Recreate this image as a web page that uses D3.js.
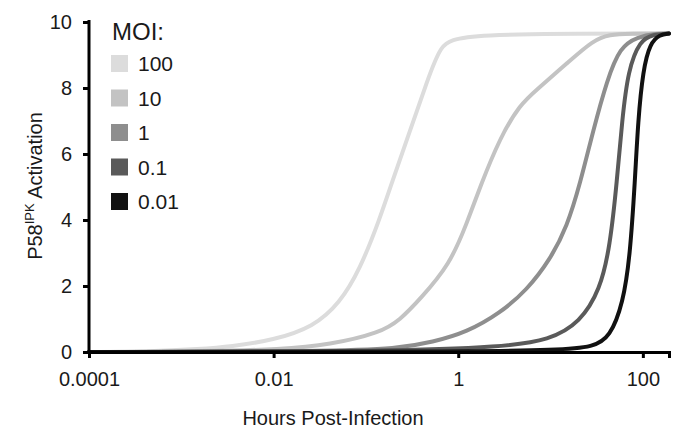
<!DOCTYPE html>
<html>
<head>
  <meta charset="utf-8">
  <script src="https://d3js.org/d3.v7.min.js"></script>
  <style>
    body { margin: 0; background: #fff; }
    text { font-family: "Liberation Sans", Arial, sans-serif; fill: #1a1a1a; }
    .line { fill: none; stroke-width: 4; stroke-linecap: round; stroke-linejoin: round; }
    .axis path, .axis line { stroke: #000; stroke-width: 3; }
    .axis text { font-size: 20px; }
  </style>
</head>
<body>
  <svg id="chart" width="689" height="441"></svg>
  <script>
    // series labels and colours (legend order)
    var mois = ['100', '10', '1', '0.1', '0.01'];
    var colors = ['#dcdcdc', '#c3c3c3', '#8e8e8e', '#5a5a5a', '#111111'];

    // [hours, activation]
    var moi100 = [[1e-4, 0], [4.6e-4, 0.01], [1.6e-3, 0.09], [3.4e-3, 0.16], [0.01, 0.36], [0.027, 0.76],
      [0.052, 1.48], [0.086, 2.5], [0.14, 4.0], [0.2, 5.3], [0.3, 6.7], [0.46, 8.2], [0.64, 9.3],
      [1.0, 9.65], [192, 9.65]];
    var moi10 = [[1e-4, 0], [2e-3, 0.02], [0.0117, 0.08], [0.041, 0.22], [0.142, 0.58], [0.234, 0.97],
      [0.385, 1.6], [0.81, 2.65], [1.24, 3.9], [1.72, 5.0], [2.84, 6.5], [4.67, 7.5], [7.1, 7.95],
      [15.1, 8.75], [28.9, 9.45], [44, 9.62], [70, 9.65], [192, 9.65]];
    var moi1 = [[1e-4, 0], [0.041, 0.02], [0.22, 0.1], [0.53, 0.3], [1.24, 0.6], [2.84, 1.18],
      [5.56, 1.88], [9.9, 2.8], [15.1, 3.8], [20.9, 5.1], [28.9, 6.7], [40.9, 8.24],
      [56.6, 9.24], [86.5, 9.55], [142, 9.65], [192, 9.65]];
    var moi01 = [[1e-4, 0], [0.234, 0.02], [2.84, 0.15], [9.9, 0.36], [20.9, 0.9],
      [34.4, 1.88], [44.1, 3.2], [52.5, 5.2], [59.5, 7.0], [69.2, 8.55], [93.4, 9.45], [129, 9.62],
      [192, 9.65]];
    var moi001 = [[1e-4, 0], [1, 0.01], [12.7, 0.06], [28.9, 0.15], [44.1, 0.45], [61, 1.48],
      [72.6, 2.9], [82.2, 5.2], [88.7, 7.0], [100.5, 8.55], [119.7, 9.36], [153, 9.62], [192, 9.65]];
    var series = [moi100, moi10, moi1, moi01, moi001];

    var xTicks = [1e-4, 1e-2, 1, 100];
    var xTickLabels = ['0.0001', '0.01', '1', '100'];
    var yTicks = [0, 2, 4, 6, 8, 10];

    var chart = d3.select('#chart');
    var margin = { top: 22, right: 20, bottom: 89, left: 89 };
    var width = 669 - margin.left;
    var height = 352 - margin.top;

    var x = d3.scaleLog().domain([1e-4, 192]).range([0, width]);
    var y = d3.scaleLinear().domain([0, 10]).range([height, 0]);

    var group = chart.append('g')
      .attr('transform', 'translate(' + margin.left + ', ' + margin.top + ')');

    var line = d3.line()
      .x((d) => x(d[0]))
      .y((d) => y(d[1]))
      .curve(d3.curveBasis);

    group.selectAll('path.line')
      .data(series)
      .enter()
      .append('path')
      .attr('class', 'line')
      .attr('stroke', (d, i) => colors[i])
      .attr('d', line);

    group.append('g')
      .attr('class', 'axis x-axis')
      .attr('transform', 'translate(0, ' + height + ')')
      .call(d3.axisBottom(x)
        .tickValues(xTicks)
        .tickFormat((d, i) => xTickLabels[i])
        .tickSizeOuter(0)
        .tickSize(6)
        .tickPadding(14));

    group.append('g')
      .attr('class', 'axis y-axis')
      .call(d3.axisLeft(y)
        .tickValues(yTicks)
        .tickSizeOuter(0)
        .tickSize(6)
        .tickPadding(11));

    group.select('.y-axis .domain').attr('d', 'M0,' + (height + 1.5) + 'V-2');

    // axis titles
    chart.append('text')
      .attr('x', 333)
      .attr('y', 425)
      .attr('text-anchor', 'middle')
      .style('font-size', '20px')
      .text('Hours Post-Infection');

    var yTitle = chart.append('text')
      .attr('transform', 'translate(42, 186) rotate(-90)')
      .attr('text-anchor', 'middle')
      .style('font-size', '20px');
    yTitle.append('tspan').text('P58');
    yTitle.append('tspan').attr('dy', -8).style('font-size', '13px').text('IPK');
    yTitle.append('tspan').attr('dy', 8).text(' Activation');

    // legend
    var legend = chart.append('g').attr('transform', 'translate(111, 0)');
    legend.append('text')
      .attr('x', 1)
      .attr('y', 40)
      .style('font-size', '24px')
      .text('MOI:');

    var items = legend.selectAll('g.item')
      .data(mois)
      .enter()
      .append('g')
      .attr('class', 'item')
      .attr('transform', (d, i) => 'translate(0, ' + (55 + i * 34.5) + ')');

    items.append('rect')
      .attr('width', 17)
      .attr('height', 17)
      .attr('fill', (d, i) => colors[i]);

    items.append('text')
      .attr('x', 27)
      .attr('y', 16)
      .style('font-size', '21px')
      .text((d) => d);
  </script>
</body>
</html>
